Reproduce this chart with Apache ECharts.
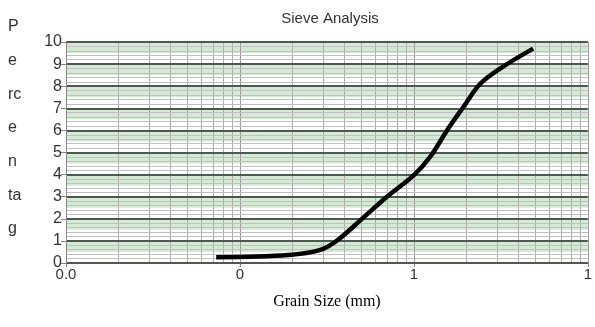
<!DOCTYPE html>
<html>
<head>
<meta charset="utf-8">
<script src="https://cdn.jsdelivr.net/npm/echarts@6/dist/echarts.min.js"></script>
<style>
  html, body { margin:0; padding:0; background:#fff; }
  #main { width:595px; height:327px; }
</style>
</head>
<body>
<div id="main"></div>
<script>
// grain size (mm) and percent passing
let grainSize = [0.073, 0.19, 0.29, 0.365, 0.52, 0.7, 1.0, 1.24, 1.55, 1.93, 2.4, 3.13, 4.85];
let percent   = [2.6, 3.6, 5.9, 10.4, 21, 30, 39.8, 48, 60, 70.7, 81, 88, 97];
// tick labels as they show (clipped) in the original
let xTicks = [0.01, 0.1, 1, 10];
let xTickLabels = ['0.0', '0', '1', '1'];
let yTickLabels = ['0', '1', '2', '3', '4', '5', '6', '7', '8', '9', '10'];
// minor log grid lines
let minorX = [];
[0.01, 0.1, 1].forEach(function(d){
	for (let k = 2; k <= 9; k++) minorX.push(+(d * k).toFixed(4));
});

var myChart = echarts.init(document.getElementById('main'));

var option = {
	animation: false,
	title: {
		text: 'Sieve Analysis',
		left: 325, top: 6, textAlign: 'center',
		textStyle: { fontFamily: 'Liberation Sans', fontSize: 15, fontWeight: 'normal', color: '#333' }
	},
	graphic: [{
		type: 'text', left: 8, top: 10,
		style: { text: 'P\ne\nrc\ne\nn\nta\ng', font: '16px "Liberation Sans"', fill: '#333', lineHeight: 33.7, align: 'left' }
	}],
	grid: { left: 66, right: 5, top: 42, bottom: 64 },
	xAxis: {
		type: 'log', logBase: 10, min: 0.01, max: 10,
		name: 'Grain Size (mm)', nameLocation: 'middle', nameGap: 31,
		nameTextStyle: { fontFamily: 'Liberation Serif', fontSize: 16, color: '#000' },
		axisLine: { lineStyle: { color: '#888' } },
		axisTick: { show: true, length: 4, lineStyle: { color: '#888' } },
		axisLabel: {
			fontFamily: 'Liberation Sans', fontSize: 15, color: '#333', margin: 4,
			formatter: function(v){
				let i = xTicks.findIndex(function(t){ return Math.abs(t - v) / t < 1e-6; });
				return i >= 0 ? xTickLabels[i] : '';
			}
		},
		splitLine: { show: true, lineStyle: { color: '#999', width: 1 } }
	},
	yAxis: [{
		type: 'value', min: 0, max: 100, interval: 10,
		axisLine: { show: true, lineStyle: { color: '#888' } },
		axisTick: { show: true, length: 5, lineStyle: { color: '#888' } },
		axisLabel: {
			fontFamily: 'Liberation Sans', fontSize: 16, color: '#333', margin: 4,
			formatter: function(v){ return yTickLabels[Math.round(v / 10)]; }
		},
		splitLine: { show: true, lineStyle: { color: '#4a5a4e', width: 2 } },
		minorTick: { show: false, splitNumber: 5 },
		minorSplitLine: { show: true, lineStyle: { color: '#c0c0c0', width: 1 } },
		z: 3
	}, {
		type: 'value', min: 0, max: 100, interval: 5,
		axisLine: { show: false }, axisTick: { show: false }, axisLabel: { show: false },
		splitLine: { show: false },
		splitArea: { show: true, areaStyle: { color: ['#ffffff', '#d6e9d6'] } },
		z: 0
	}],
	series: [{
		type: 'line',
		data: grainSize.map(function(g, i){ return [g, percent[i]]; }),
		smooth: 0.35,
		showSymbol: false,
		lineStyle: { color: '#000', width: 4.5 },
		z: 5,
		markLine: {
			silent: true, symbol: 'none', label: { show: false },
			lineStyle: { color: '#adadad', type: 'solid', width: 1 },
			data: minorX.map(function(x){ return { xAxis: x }; }),
			z: 1
		}
	}]
};

myChart.setOption(option);
</script>
</body>
</html>
